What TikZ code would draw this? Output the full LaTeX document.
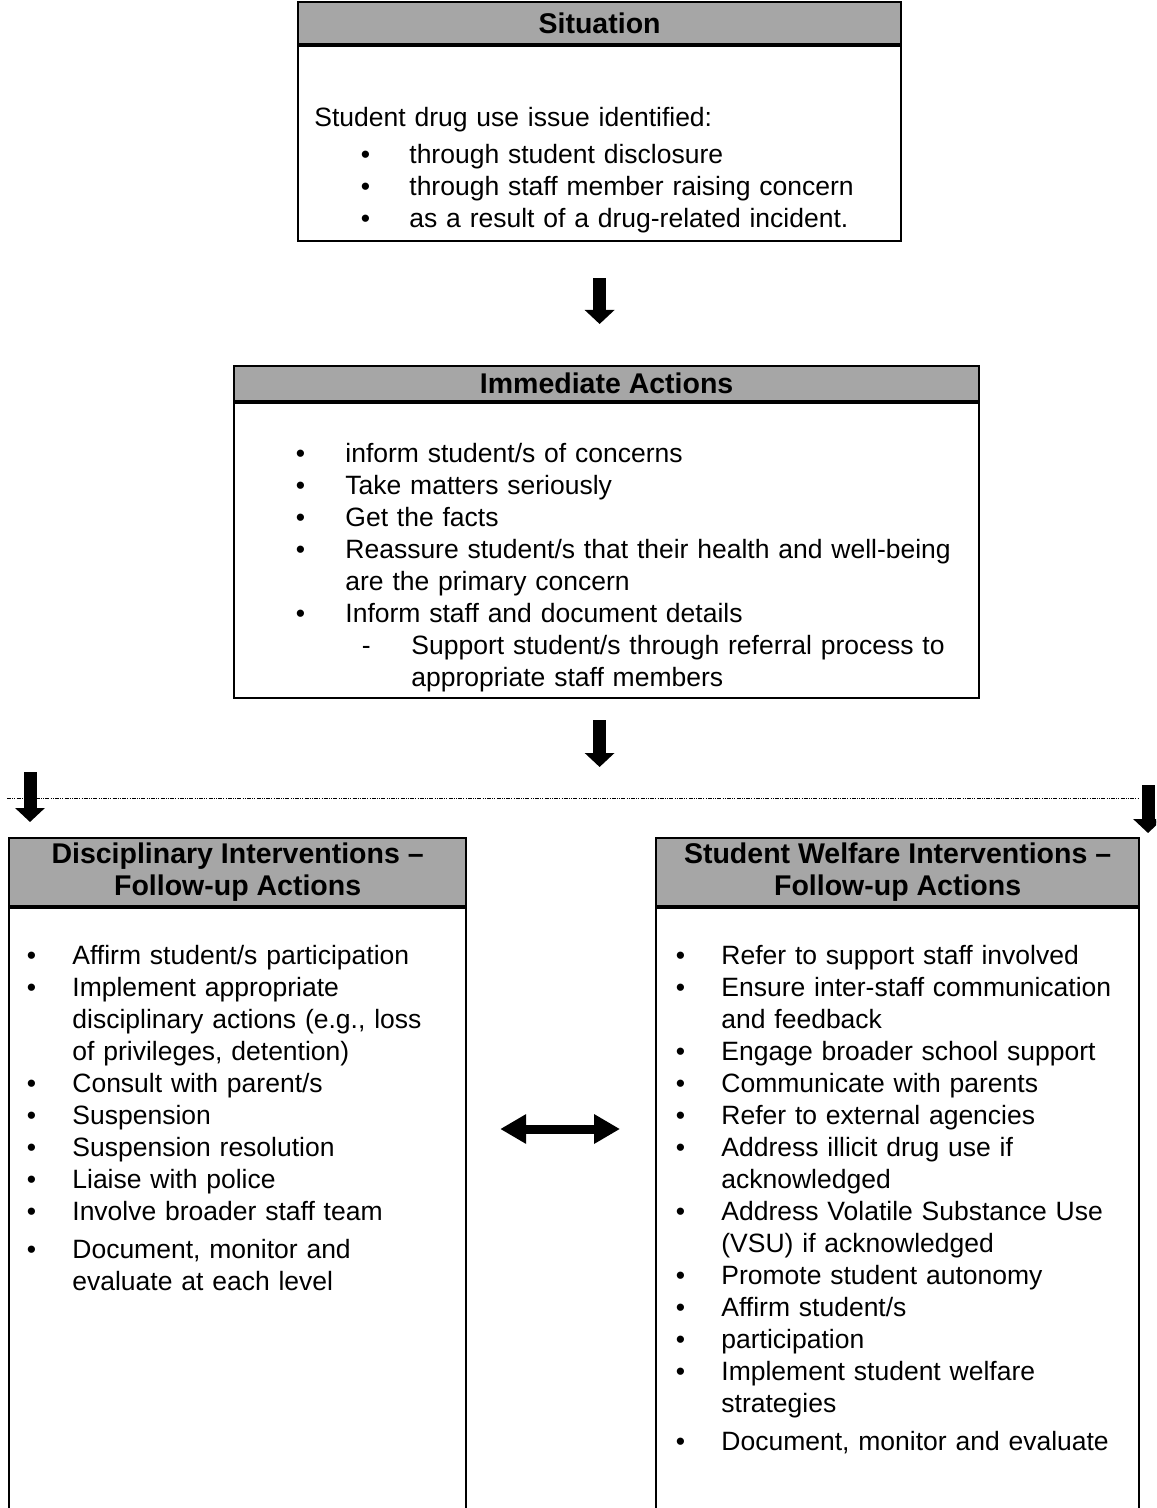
\documentclass[tikz,border=0pt]{standalone}
\usepackage{fontspec}
\setmainfont{Liberation Sans}
\usetikzlibrary{arrows.meta,calc}
\definecolor{ink}{HTML}{000000}
\definecolor{bandgray}{HTML}{A6A6A6}
\newcommand{\bodyfont}{\fontsize{13.25}{16}\selectfont}
\newcommand{\headfont}{\fontsize{14.25}{16}\selectfont\bfseries}
% list line: mark, centre of mark, start of text, text
\newcommand{\litem}[4]{\hangindent=#3\hangafter=1\noindent
  \hbox to #3{\hskip#2\hbox to 0pt{\hss#1\hss}\hfil}#4\par}
\newcommand{\bitem}[3]{\litem{\textbullet}{#1}{#2}{#3}}

\begin{document}
\begin{tikzpicture}[x=0.5pt,y=-0.5pt,
  headband/.style={draw=ink,fill=bandgray,line width=1.1pt,inner sep=0pt,
    font=\headfont,align=center,anchor=north west},
  boxbody/.style={draw=ink,line width=1.1pt,inner sep=0pt,anchor=north},
  bodytext/.style={inner sep=0pt,font=\bodyfont,anchor=base west},
  bigarrow/.style={ink,line width=6.5pt,-{Triangle[length=7pt,width=14.5pt]}},
  linkarrow/.style={ink,line width=4.5pt,
    {Triangle[length=13pt,width=14pt]}-{Triangle[length=13pt,width=14pt]}},
  splitline/.style={ink,line width=.5pt,
    dash pattern=on 2pt off .6pt on .5pt off .6pt on .5pt off .6pt}]
\useasboundingbox (0,0) rectangle (1156,1508);
\clip (0,0) rectangle (1156,1508);

% ---------------- situation --------------------------------------------------
\node[headband,minimum width=301.5pt,minimum height=21pt] (sithead) at (297,1) {Situation};
\node[boxbody,minimum width=301.5pt,minimum height=97.5pt] (sitbody) at (sithead.south) {};
\node[bodytext,text width=301.5pt] (sittext) at ($(sitbody.north west)+(0,81)$) {%
  \hspace*{8.5pt}Student drug use issue identified:\par\vspace{2.5pt}
  \bitem{34pt}{56pt}{through student disclosure}
  \bitem{34pt}{56pt}{through staff member raising concern}
  \bitem{34pt}{56pt}{as a result of a drug-related incident.}};

% ---------------- immediate actions ------------------------------------------
\node[headband,minimum width=372.5pt,minimum height=17.5pt] (imhead) at (233,365) {Immediate Actions};
\node[boxbody,minimum width=372.5pt,minimum height=147.5pt] (imbody) at (imhead.south) {};
\node[bodytext,text width=372.5pt] (imtext) at ($(imbody.north west)+(0,60)$) {%
  \bitem{33.5pt}{56pt}{inform student/s of concerns}
  \bitem{33.5pt}{56pt}{Take matters seriously}
  \bitem{33.5pt}{56pt}{Get the facts}
  \bitem{33.5pt}{56pt}{Reassure student/s that their health and well-being\newline are the primary concern}
  \bitem{33.5pt}{56pt}{Inform staff and document details}
  \litem{-}{66.5pt}{89pt}{Support student/s through referral process to\newline appropriate staff members}};

% ---------------- follow-up boxes --------------------------------------------
\node[headband,minimum width=228.5pt,minimum height=34pt] (dischead) at (8,837)
  {Disciplinary Interventions –\\Follow-up Actions};
\node[boxbody,minimum width=228.5pt,minimum height=350pt] (discbody) at (dischead.south) {};
\node[bodytext,text width=228.5pt] (disctext) at ($(discbody.north west)+(0,57)$) {%
  \bitem{11.5pt}{32pt}{Affirm student/s participation}
  \bitem{11.5pt}{32pt}{Implement appropriate\newline disciplinary actions (e.g., loss\newline of privileges, detention)}
  \bitem{11.5pt}{32pt}{Consult with parent/s}
  \bitem{11.5pt}{32pt}{Suspension}
  \bitem{11.5pt}{32pt}{Suspension resolution}
  \bitem{11.5pt}{32pt}{Liaise with police}
  \bitem{11.5pt}{32pt}{Involve broader staff team}\vspace{3pt}
  \bitem{11.5pt}{32pt}{Document, monitor and\newline evaluate at each level}};

\node[headband,minimum width=241.5pt,minimum height=34pt] (welfhead) at (655,837)
  {Student Welfare Interventions –\\Follow-up Actions};
\node[boxbody,minimum width=241.5pt,minimum height=350pt] (welfbody) at (welfhead.south) {};
\node[bodytext,text width=241.5pt] (welftext) at ($(welfbody.north west)+(0,57)$) {%
  \bitem{12.5pt}{33pt}{Refer to support staff involved}
  \bitem{12.5pt}{33pt}{Ensure inter-staff communication\newline and feedback}
  \bitem{12.5pt}{33pt}{Engage broader school support}
  \bitem{12.5pt}{33pt}{Communicate with parents}
  \bitem{12.5pt}{33pt}{Refer to external agencies}
  \bitem{12.5pt}{33pt}{Address illicit drug use if\newline acknowledged}
  \bitem{12.5pt}{33pt}{Address Volatile Substance Use\newline (VSU) if acknowledged}
  \bitem{12.5pt}{33pt}{Promote student autonomy}
  \bitem{12.5pt}{33pt}{Affirm student/s}
  \bitem{12.5pt}{33pt}{participation}
  \bitem{12.5pt}{33pt}{Implement student welfare\newline strategies}\vspace{3pt}
  \bitem{12.5pt}{33pt}{Document, monitor and evaluate}};

% ---------------- connectors -------------------------------------------------
\coordinate (splitl) at (7,798);
\coordinate (splitr) at (1138,798);
\coordinate (discin) at (30,772);
\coordinate (welfin) at (1148,785);
\coordinate (link) at (560,1129);

\draw[splitline] (splitl) -- (splitr);
\draw[bigarrow,shorten <=18pt,shorten >=20.5pt] (sitbody.south) -- (sitbody.south |- imhead.north);
\draw[bigarrow,shorten <=10.5pt,shorten >=15.5pt] (imbody.south -| sitbody.south) -- (sitbody.south |- splitl);
\draw[bigarrow,shorten >=7.5pt] (discin) -- (discin |- dischead.north);
\draw[bigarrow,shorten >=2pt] (welfin) -- (welfin |- welfhead.north);
\draw[linkarrow,shorten <=16.5pt,shorten >=17.5pt] (discbody.east |- link) -- (welfbody.west |- link);

\end{tikzpicture}
\end{document}
